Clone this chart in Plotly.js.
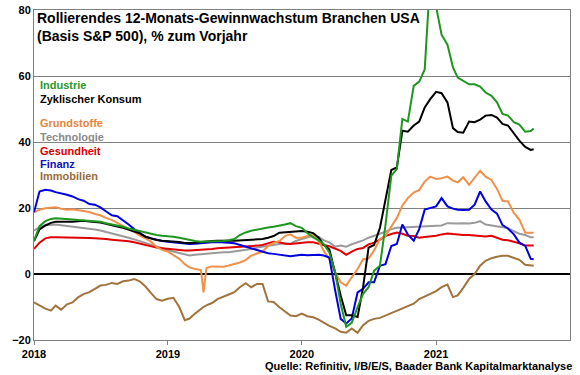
<!DOCTYPE html>
<html>
<head>
<meta charset="utf-8">
<script src="https://cdn.plot.ly/plotly-3.0.1.min.js"></script>
<style>html,body{margin:0;padding:0;background:#fff;}#chart{width:580px;height:375px;}</style>
</head>
<body>
<div id="chart"></div>
<script>
var dates = [
'2018-01-01','2018-01-16','2018-02-01','2018-02-16','2018-03-01','2018-03-16','2018-04-01','2018-04-16','2018-05-01','2018-05-16','2018-06-01','2018-06-16',
'2018-07-01','2018-07-16','2018-08-01','2018-08-16','2018-09-01','2018-09-16','2018-10-01','2018-10-16','2018-11-01','2018-11-16','2018-12-01','2018-12-16',
'2019-01-01','2019-01-16','2019-02-01','2019-02-16','2019-03-01','2019-03-16','2019-04-01','2019-04-08','2019-04-16','2019-05-01','2019-05-16','2019-06-01','2019-06-16',
'2019-07-01','2019-07-16','2019-08-01','2019-08-16','2019-09-01','2019-09-16','2019-10-01','2019-10-16','2019-11-01','2019-11-16','2019-12-01','2019-12-16',
'2020-01-01','2020-01-16','2020-02-01','2020-02-16','2020-03-01','2020-03-16','2020-04-01','2020-04-16','2020-05-01','2020-05-16','2020-06-01','2020-06-16',
'2020-07-01','2020-07-16','2020-08-01','2020-08-16','2020-09-01','2020-09-16','2020-10-01','2020-10-16','2020-11-01','2020-11-16','2020-12-01','2020-12-16',
'2021-01-01','2021-01-16','2021-02-01','2021-02-16','2021-03-01','2021-03-16','2021-04-01','2021-04-16','2021-05-01','2021-05-16','2021-06-01','2021-06-16',
'2021-07-01','2021-07-16','2021-08-01','2021-08-16','2021-09-01','2021-09-16','2021-09-24'
];

var industrie = [
10.0,14.5,16.0,16.7,16.9,16.7,16.5,16.5,16.4,16.3,16.2,16.0,15.8,15.4,15.1,14.8,14.3,13.8,13.4,13.0,12.6,12.1,11.8,11.6,
11.5,11.3,11.0,10.6,10.3,10.0,9.8,9.8,9.8,9.8,9.9,10.0,10.2,10.6,11.8,12.6,13.1,13.5,13.8,14.1,14.3,14.6,15.0,15.4,14.5,
14.0,12.4,11.1,10.2,9.0,6.5,0.5,-9.0,-16.0,-14.8,-10.0,-6.0,-4.0,1.0,2.5,14.8,29.8,31.8,47.0,46.2,57.0,58.3,62.0,90.0,
81.0,72.5,69.5,62.6,59.5,58.5,57.5,57.5,56.8,55.0,54.0,52.0,48.5,48.0,46.0,45.3,43.1,43.3,44.1
];
var zyklKonsum = [
10.0,13.5,14.7,15.5,15.8,15.8,15.7,15.8,16.0,16.1,15.9,15.8,15.6,15.2,14.9,14.4,14.0,13.4,13.0,12.3,11.3,10.8,10.3,10.1,
10.0,9.8,9.7,9.4,9.4,9.5,9.7,9.8,9.9,10.0,10.1,10.2,10.1,10.1,10.2,10.3,10.3,10.5,10.6,11.0,11.5,12.5,12.6,12.7,12.9,
13.0,12.8,12.4,11.0,8.8,7.5,0.0,-6.5,-12.5,-12.5,-13.0,-4.0,8.0,8.8,14.0,22.0,31.5,32.3,43.4,43.1,45.0,46.2,50.5,53.0,
55.2,54.8,52.0,44.2,43.0,42.8,46.2,46.0,46.8,48.0,48.2,47.4,45.5,45.0,42.5,40.4,38.5,37.6,37.8
];
var grundstoffe = [
18.7,19.5,19.9,20.1,20.2,19.8,19.5,19.6,19.4,19.2,18.8,18.2,17.8,17.0,16.4,15.5,14.4,13.6,12.8,11.6,10.8,9.8,8.2,7.3,
6.8,5.8,4.6,3.0,2.0,1.5,1.2,-5.6,1.8,2.3,2.3,2.2,2.6,3.0,3.5,4.2,5.6,6.2,6.8,8.5,9.4,10.0,11.5,12.0,11.0,
11.0,11.5,12.0,10.0,7.0,4.5,0.5,-2.5,-3.5,-1.0,1.5,4.5,4.7,7.1,10.6,11.6,14.5,17.0,20.7,23.0,24.7,25.5,28.0,29.5,
28.8,29.0,29.5,28.3,27.8,29.3,27.0,29.0,31.3,29.5,28.5,25.8,22.2,22.0,18.5,16.5,12.5,12.5,12.5
];
var technologie = [
13.1,14.2,14.8,15.0,15.0,14.8,14.6,14.4,14.2,14.0,13.8,13.5,13.2,12.8,12.4,12.0,11.5,11.0,10.5,10.0,9.5,8.9,8.3,7.8,
7.2,6.8,6.2,5.8,5.6,5.8,6.0,6.1,6.2,6.4,6.5,6.6,6.6,6.8,7.0,7.2,7.6,8.0,8.2,8.6,8.8,9.1,9.4,9.2,10.0,
10.6,11.2,11.6,11.2,10.2,9.6,8.3,8.6,8.3,9.0,9.5,10.2,11.0,11.6,12.1,12.8,13.6,14.0,14.1,14.2,14.3,14.3,14.5,14.6,
14.8,14.7,15.4,15.3,15.3,15.4,15.3,15.5,16.0,15.0,14.8,14.5,14.2,13.8,13.0,12.2,11.8,11.1,11.1
];
var gesundheit = [
7.6,9.5,10.8,11.1,11.1,11.1,11.1,11.1,11.0,11.0,10.9,10.8,10.8,10.6,10.4,10.3,10.1,9.9,9.6,9.2,8.6,8.3,8.0,7.8,
7.6,7.4,7.2,7.1,7.1,7.2,7.3,7.3,7.4,7.6,7.8,7.9,8.0,8.1,8.2,8.3,8.5,8.6,8.8,9.2,9.8,9.6,9.2,9.1,9.3,
9.5,9.6,9.6,9.3,8.8,8.4,7.8,7.0,5.8,6.8,7.6,7.9,9.0,9.5,10.4,11.5,12.1,12.6,12.2,11.6,11.5,11.0,11.2,11.3,
11.6,12.0,12.3,12.1,11.9,11.8,11.8,11.6,11.5,11.4,11.6,11.0,10.4,10.2,9.8,9.3,8.6,8.6,8.6
];
var finanz = [
18.7,25.0,25.5,25.3,24.8,24.5,24.0,23.5,22.7,22.2,21.2,21.0,20.2,19.0,17.8,17.5,16.3,15.0,13.6,12.5,11.3,10.8,10.3,10.0,
9.8,9.6,9.4,9.2,9.1,9.2,9.4,9.4,9.5,9.6,9.7,9.7,9.5,9.3,8.8,8.2,7.7,7.2,6.8,6.3,6.1,5.8,5.5,5.4,5.6,
5.8,5.7,5.8,5.8,5.6,5.0,-5.0,-13.6,-15.0,-13.5,-5.6,-4.5,-2.5,-2.5,2.5,3.0,8.5,9.1,15.0,12.0,10.1,13.6,19.5,20.0,
20.5,23.0,20.5,19.8,19.5,19.4,19.5,21.0,25.0,22.0,19.5,18.3,14.8,13.8,12.0,9.5,8.5,4.6,4.5
];
var immobilien = [
-8.6,-9.5,-10.5,-11.1,-9.6,-10.8,-9.2,-8.6,-7.1,-6.1,-5.5,-4.5,-3.5,-3.3,-2.7,-3.0,-2.2,-2.0,-1.5,-2.2,-3.8,-5.8,-7.6,-8.1,
-7.5,-7.2,-10.0,-14.0,-13.5,-12.0,-10.5,-10.0,-9.5,-8.8,-7.6,-7.0,-6.2,-5.5,-4.0,-2.8,-4.0,-3.0,-3.0,-8.3,-8.5,-10.1,-11.3,-12.6,-12.8,
-12.0,-12.8,-13.1,-13.8,-14.8,-15.7,-16.5,-17.5,-17.8,-16.5,-17.8,-15.5,-14.2,-13.6,-13.3,-12.6,-11.8,-11.3,-10.6,-9.8,-9.0,-7.6,-6.8,-6.0,
-5.2,-4.0,-3.2,-7.0,-6.5,-4.2,-1.5,0.0,2.5,4.0,4.8,5.2,5.5,5.5,5.0,4.3,2.8,2.5,2.5
];

var seriesNames = ['Immobilien','Technologie','Gesundheit','Grundstoffe','Finanz','Zyklischer Konsum','Industrie'];
var seriesData = [immobilien, technologie, gesundheit, grundstoffe, finanz, zyklKonsum, industrie];
var lineColors = ['#a0743c','#9a9a9a','#e00000','#f0904a','#0000e0','#000000','#1f961f'];

var legendOrder = ['Industrie','Zyklischer Konsum','Grundstoffe','Technologie','Gesundheit','Finanz','Immobilien'];
var legendColors = ['#2a9a2a','#000000','#e8843c','#8a8a8a','#dd0000','#1010c0','#9c6c38'];
var legendY = [0.772, 0.730, 0.657, 0.614, 0.574, 0.534, 0.498];

var yearTicks = ['2018-01-01','2019-01-01','2020-01-01','2021-01-01'];
var yearLabels = ['2018','2019','2020','2021'];
var yTicks = [-20, 0, 20, 40, 60, 80];

var FONT = 'Liberation Sans, Arial, sans-serif';

var traces = seriesData.map(function(d, k){
  return {x: dates, y: d, type: 'scatter', mode: 'lines', name: seriesNames[k],
          line: {color: lineColors[k], width: 2}, hoverinfo: 'skip'};
});

var annotations = [
  {text: '<b>Rollierendes 12-Monats-Gewinnwachstum Branchen USA</b>', xref: 'paper', yref: 'paper', x: 0.001, y: 0.976,
   xanchor: 'left', yanchor: 'middle', showarrow: false, font: {family: FONT, size: 14, color: '#000'}},
  {text: '<b>(Basis S&P 500), % zum Vorjahr</b>', xref: 'paper', yref: 'paper', x: 0.001, y: 0.922,
   xanchor: 'left', yanchor: 'middle', showarrow: false, font: {family: FONT, size: 14, color: '#000'}},
  {text: '<b>Quelle: Refinitiv, I/B/E/S, Baader Bank Kapitalmarktanalyse</b>', xref: 'paper', yref: 'paper', x: 1.0075, y: -0.079,
   xanchor: 'right', yanchor: 'middle', showarrow: false, font: {family: FONT, size: 11, color: '#000'}}
];
legendOrder.forEach(function(n, k){
  annotations.push({text: '<b>' + n + '</b>', xref: 'paper', yref: 'paper', x: 0.007, y: legendY[k],
    xanchor: 'left', yanchor: 'middle', showarrow: false, font: {family: FONT, size: 11, color: legendColors[k]}});
});

var layout = {
  width: 580, height: 375,
  margin: {l: 34, r: 10, t: 10, b: 35, pad: 0},
  paper_bgcolor: '#fff', plot_bgcolor: '#fff',
  showlegend: false,
  font: {family: FONT, size: 11, color: '#000'},
  xaxis: {type: 'date', range: ['2018-01-01', '2022-01-01'], tickmode: 'array', tickvals: yearTicks, ticktext: yearLabels,
          showgrid: false, zeroline: false, showline: true, linecolor: '#808080', linewidth: 1, mirror: true,
          ticks: 'outside', ticklen: 4, tickcolor: '#808080',
          tickfont: {family: FONT, size: 11, color: '#000', weight: 'bold'}},
  yaxis: {range: [-20, 80], tickmode: 'array', tickvals: yTicks, showgrid: true, gridcolor: '#808080', gridwidth: 1,
          zeroline: true, zerolinecolor: '#000', zerolinewidth: 2, showline: true, linecolor: '#808080', linewidth: 1, mirror: true,
          ticks: '', tickfont: {family: FONT, size: 11, color: '#000', weight: 'bold'}},
  annotations: annotations
};

Plotly.newPlot('chart', traces, layout, {displayModeBar: false, staticPlot: true});
</script>
</body>
</html>
